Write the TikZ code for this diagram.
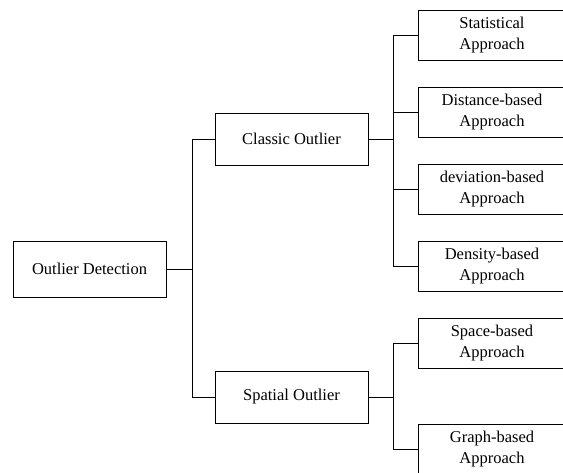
\documentclass[tikz,border=0pt]{standalone}
\usepackage{fontspec}
\setmainfont{Liberation Serif}
\begin{document}
\begin{tikzpicture}[x=1pt,y=-1pt,
  every node/.style={font=\fontsize{16.5}{21}\selectfont},
  box/.style={draw=black, line width=0.9pt, inner sep=0pt, align=center, minimum width=153pt},
  rbox/.style={draw=black, line width=0.9pt, inner sep=0pt, align=center, minimum width=148pt, minimum height=50pt},
  link/.style={draw=black, line width=0.9pt}]
\useasboundingbox (0,0) rectangle (563,473);
\fill[white] (0,0) rectangle (563,473);
\clip (0,0) rectangle (563,473);
% main boxes
\node[box, minimum height=56pt] (od) at (89.5,269) {Outlier Detection};
\node[box, minimum height=52pt] (co) at (291.5,139) {Classic Outlier};
\node[box, minimum height=52pt] (so) at (291.5,397) {Spatial Outlier};
% right column
\node[rbox] (sta) at (492,35) {Statistical\\Approach};
\node[rbox] (dis) at (492,112) {Distance-based\\Approach};
\node[rbox] (dev) at (492,189) {deviation-based\\Approach};
\node[rbox] (den) at (492,266) {Density-based\\Approach};
\node[rbox] (spa) at (492,343) {Space-based\\Approach};
\node[rbox] (gra) at (492,449) {Graph-based\\Approach};
% junction coordinates
\coordinate (j1) at (192,0);
\coordinate (j2) at (393,0);
% connectors
\draw[link] (od.east) -- (od.east -| j1);
\draw[link] (co.west) -- (co.west -| j1) -- (so.west -| j1) -- (so.west);
\draw[link] (co.east) -- (co.east -| j2);
\draw[link] (sta.west) -- (sta.west -| j2) -- (den.west -| j2) -- (den.west);
\draw[link] (dis.west) -- (dis.west -| j2);
\draw[link] (dev.west) -- (dev.west -| j2);
\draw[link] (so.east) -- (so.east -| j2);
\draw[link] (spa.west) -- (spa.west -| j2) -- (gra.west -| j2) -- (gra.west);
\end{tikzpicture}
\end{document}
